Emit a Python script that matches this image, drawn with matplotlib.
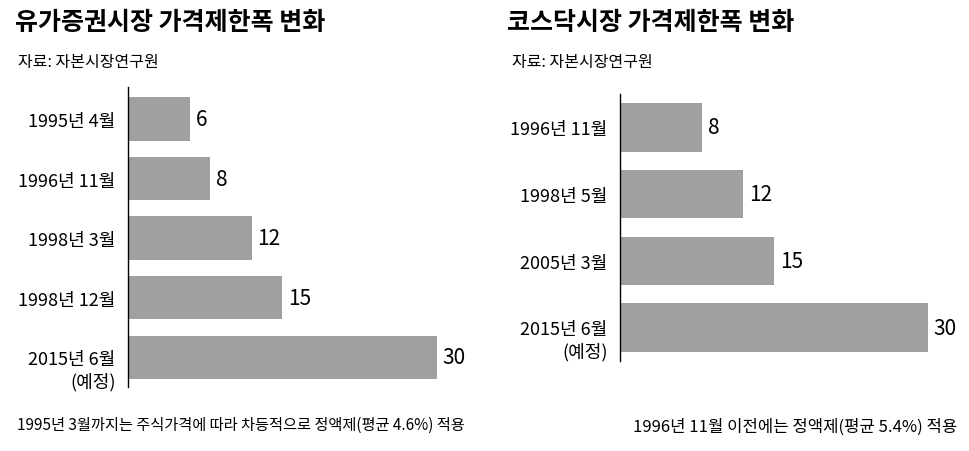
import matplotlib.pyplot as plt
import matplotlib.transforms as mtransforms

plt.rcParams['font.family'] = ['Noto Sans CJK KR', 'DejaVu Sans']

# 유가증권시장
kospi_labels = ["1995년 4월", "1996년 11월", "1998년 3월", "1998년 12월", "2015년 6월\n(예정)"]
kospi_values = [6, 8, 12, 15, 30]

# 코스닥시장
kosdaq_labels = ["1996년 11월", "1998년 5월", "2005년 3월", "2015년 6월\n(예정)"]
kosdaq_values = [8, 12, 15, 30]

bar_color = '#a0a0a0'
W, H = 970, 452

fig = plt.figure(figsize=(9.7, 4.52), dpi=100)


def add_panel(rect_px, labels, values, ylim):
    x0, y0, x1, y1 = rect_px
    ax = fig.add_axes([x0 / W, 1 - y1 / H, (x1 - x0) / W, (y1 - y0) / H])
    pos = list(range(len(values)))
    ax.barh(pos, values, height=0.73, color=bar_color)
    ax.set_xlim(0, 30)
    ax.set_ylim(*ylim)
    ax.set_yticks(pos)
    ax.set_yticklabels(labels, fontsize=13, ha='right', multialignment='right',
                       linespacing=1.25)
    ax.tick_params(axis='y', length=0, pad=9)
    ax.set_xticks([])
    # two-line label sits a bit lower than the bar centre
    shift = mtransforms.ScaledTranslation(0, -9 / 100, fig.dpi_scale_trans)
    for lab in ax.get_yticklabels():
        if "\n" in lab.get_text():
            lab.set_transform(lab.get_transform() + shift)
    for s in ['top', 'right', 'bottom']:
        ax.spines[s].set_visible(False)
    ax.spines['left'].set_linewidth(1.0)
    for p, v in zip(pos, values):
        ax.text(v + 0.55, p, str(v), va='center', ha='left', fontsize=15, clip_on=False)
    return ax


add_panel((128, 88, 437, 388), kospi_labels, kospi_values, (4.5, -0.54))
add_panel((620, 95, 928, 362), kosdaq_labels, kosdaq_values, (3.5, -0.5))

fig.text(15 / W, 1 - 23 / H, "유가증권시장 가격제한폭 변화", fontsize=18, fontweight='bold',
         va='center', ha='left')
fig.text(507 / W, 1 - 23 / H, "코스닥시장 가격제한폭 변화", fontsize=18, fontweight='bold',
         va='center', ha='left')
fig.text(18 / W, 1 - 62 / H, "자료: 자본시장연구원", fontsize=11.5, va='center', ha='left')
fig.text(512 / W, 1 - 62 / H, "자료: 자본시장연구원", fontsize=11.5, va='center', ha='left')

fig.text(17 / W, 1 - 425 / H, "1995년 3월까지는 주식가격에 따라 차등적으로 정액제(평균 4.6%) 적용",
         fontsize=11, va='center', ha='left')
fig.text(957 / W, 1 - 427 / H, "1996년 11월 이전에는 정액제(평균 5.4%) 적용",
         fontsize=12, va='center', ha='right')

fig.savefig('out.png', dpi=100)
